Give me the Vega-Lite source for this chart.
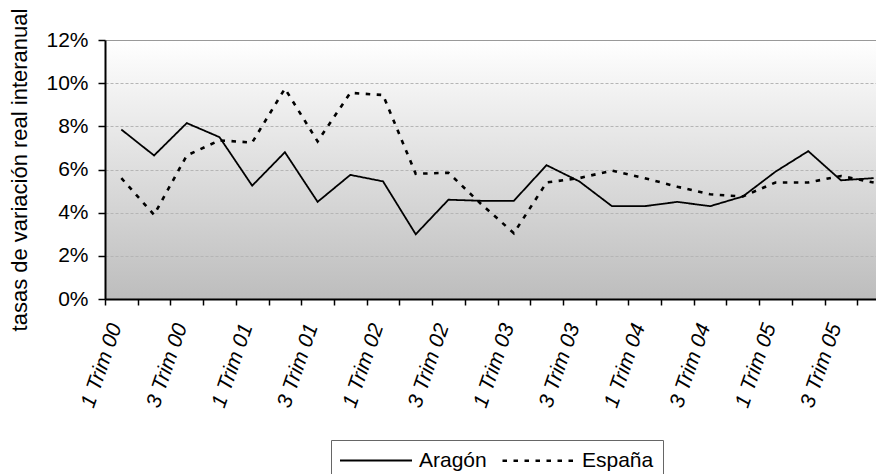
{
  "$schema": "https://vega.github.io/schema/vega-lite/v6.json",
  "width": 771,
  "height": 259,
  "autosize": {"type": "none"},
  "padding": {"left": 105, "top": 40, "right": 0, "bottom": 175},
  "config": {
    "font": "Liberation Sans",
    "view": {
      "stroke": null,
      "fill": {"gradient": "linear", "x1": 0, "y1": 0, "x2": 0, "y2": 1,
        "stops": [{"offset": 0, "color": "#ffffff"}, {"offset": 1, "color": "#bdbdbd"}]}
    }
  },
  "data": {
    "values": [
      {"q": "1 Trim 00", "Aragón": 0.0785, "España": 0.056},
      {"q": "2 Trim 00", "Aragón": 0.0665, "España": 0.039},
      {"q": "3 Trim 00", "Aragón": 0.0815, "España": 0.0665},
      {"q": "4 Trim 00", "Aragón": 0.075, "España": 0.0735},
      {"q": "1 Trim 01", "Aragón": 0.0525, "España": 0.0725},
      {"q": "2 Trim 01", "Aragón": 0.068, "España": 0.0975},
      {"q": "3 Trim 01", "Aragón": 0.045, "España": 0.073},
      {"q": "4 Trim 01", "Aragón": 0.0575, "España": 0.0955},
      {"q": "1 Trim 02", "Aragón": 0.0545, "España": 0.0945},
      {"q": "2 Trim 02", "Aragón": 0.030, "España": 0.058},
      {"q": "3 Trim 02", "Aragón": 0.046, "España": 0.0585},
      {"q": "4 Trim 02", "Aragón": 0.0455, "España": 0.044},
      {"q": "1 Trim 03", "Aragón": 0.0455, "España": 0.0305},
      {"q": "2 Trim 03", "Aragón": 0.062, "España": 0.054},
      {"q": "3 Trim 03", "Aragón": 0.0545, "España": 0.056},
      {"q": "4 Trim 03", "Aragón": 0.043, "España": 0.0595},
      {"q": "1 Trim 04", "Aragón": 0.043, "España": 0.056},
      {"q": "2 Trim 04", "Aragón": 0.045, "España": 0.052},
      {"q": "3 Trim 04", "Aragón": 0.043, "España": 0.0485},
      {"q": "4 Trim 04", "Aragón": 0.0475, "España": 0.0475},
      {"q": "1 Trim 05", "Aragón": 0.059, "España": 0.054},
      {"q": "2 Trim 05", "Aragón": 0.0685, "España": 0.054},
      {"q": "3 Trim 05", "Aragón": 0.055, "España": 0.057},
      {"q": "4 Trim 05", "Aragón": 0.056, "España": 0.054}
    ]
  },
  "transform": [{"fold": ["Aragón", "España"], "as": ["serie", "v"]}],
  "mark": {"type": "line", "color": "black"},
  "encoding": {
    "x": {
      "field": "q", "type": "ordinal", "sort": null,
      "scale": {"type": "band", "paddingInner": 0, "paddingOuter": 0, "range": [0, 785]},
      "axis": {
        "title": null, "tickBand": "extent", "labelAngle": -71, "labelAlign": "right",
        "labelBaseline": "alphabetic", "labelFontSize": 21, "labelFontStyle": "italic",
        "labelColor": "black", "labelPadding": 21, "tickSize": 6, "tickColor": "black",
        "tickWidth": 1.5, "domainColor": "black", "domainWidth": 2, "grid": false,
        "labelOverlap": false, "labelBound": false, "labelFlush": false,
        "labelExpr": "(substring(datum.label,0,1) == '1' || substring(datum.label,0,1) == '3') ? datum.label : ''"
      }
    },
    "y": {
      "field": "v", "type": "quantitative",
      "scale": {"domain": [0, 0.12]},
      "axis": {
        "title": "tasas de variación real interanual",
        "values": [0, 0.02, 0.04, 0.06, 0.08, 0.10, 0.12],
        "format": ".0%", "labelFontSize": 21, "labelColor": "black", "labelPadding": 10,
        "tickSize": 7, "tickColor": "black", "tickWidth": 1.5,
        "domainColor": "black", "domainWidth": 2, "grid": true,
        "gridColor": {"condition": {"test": "datum.value >= 0.119", "value": "#999999"}, "value": "#b5b5b5"},
        "gridDash": {"condition": {"test": "datum.value >= 0.119", "value": []}, "value": [3, 2]},
        "gridWidth": 1,
        "titleFontSize": 22, "titleFontWeight": "normal", "titleColor": "black", "titlePadding": 14
      }
    },
    "strokeDash": {
      "field": "serie", "type": "nominal",
      "scale": {"domain": ["Aragón", "España"], "range": [[1, 0], [4.5, 6.5]]},
      "legend": {
        "title": null, "orient": "none", "legendX": 226, "legendY": 400, "direction": "horizontal",
        "symbolType": "M-1.1,0H6.1", "symbolSize": 400, "symbolStrokeColor": "black",
        "labelFontSize": 21, "labelColor": "black", "labelOffset": 57, "columnPadding": 10,
        "padding": 9, "strokeColor": "#666666", "fillColor": "white"
      }
    },
    "strokeWidth": {
      "field": "serie", "type": "nominal",
      "scale": {"domain": ["Aragón", "España"], "range": [1.8, 2.6]},
      "legend": {
        "title": null, "orient": "none", "legendX": 226, "legendY": 400, "direction": "horizontal",
        "symbolType": "M-1.1,0H6.1", "symbolSize": 400, "symbolStrokeColor": "black",
        "labelFontSize": 21, "labelColor": "black", "labelOffset": 57, "columnPadding": 10,
        "padding": 9, "strokeColor": "#666666", "fillColor": "white"
      }
    }
  }
}
